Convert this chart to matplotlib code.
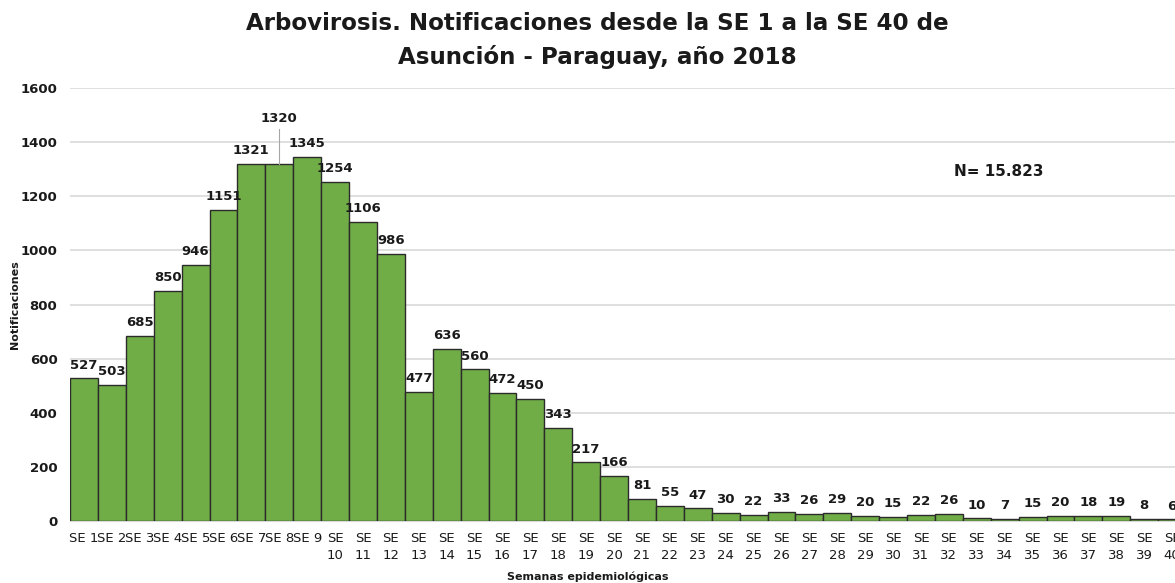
import matplotlib
matplotlib.use("Agg")
import matplotlib.pyplot as plt

weeks = [f"SE {i}" if i < 10 else f"SE\n{i}" for i in range(1, 41)]
values = [527, 503, 685, 850, 946, 1151, 1321, 1320, 1345, 1254,
          1106, 986, 477, 636, 560, 472, 450, 343, 217, 166,
          81, 55, 47, 30, 22, 33, 26, 29, 20, 15,
          22, 26, 10, 7, 15, 20, 18, 19, 8, 6]
title = "Arbovirosis. Notificaciones desde la SE 1 a la SE 40 de\nAsunción - Paraguay, año 2018"
total_label = "N= 15.823"

plt.rcParams['font.family'] = ['DejaVu Sans']
fig = plt.figure(figsize=(11.75, 5.83), dpi=100)
ax = fig.add_axes([70/1175, 1-521/583, (1186-70)/1175, (521-88)/583])

x = list(range(len(values)))
ax.bar(x, values, width=1.0, color="#70AD47", edgecolor="#2b2b2b", linewidth=1.0, zorder=3)
ax.set_xlim(-0.5, len(values) - 0.5)
ax.set_ylim(0, 1600)
ax.set_yticks(range(0, 1601, 200))
ax.yaxis.grid(True, color="#d9d9d9", linewidth=1.2, zorder=0)
ax.set_axisbelow(True)
for s in ["top", "right", "left"]:
    ax.spines[s].set_visible(False)
ax.spines["bottom"].set_color("#d9d9d9")
ax.tick_params(axis="both", length=0)
ax.set_xticks(x)
ax.set_xticklabels(weeks, fontsize=9.5, color="#1a1a1a", linespacing=1.4)
for lab in ax.get_yticklabels():
    lab.set_fontsize(9.5)
    lab.set_fontweight("bold")
    lab.set_color("#1a1a1a")
ax.tick_params(axis="x", pad=8)
ax.tick_params(axis="y", pad=9)

for i, v in enumerate(values):
    if i == 7:
        ax.plot([i, i], [v, 1450], color="#a6a6a6", linewidth=0.8, zorder=4)
        ax.text(i, 1465, str(v), ha="center", va="bottom", fontsize=9.5, fontweight="bold", color="#1a1a1a")
    else:
        ax.text(i, v + 25, str(v), ha="center", va="bottom", fontsize=9.5, fontweight="bold", color="#1a1a1a")

ax.text(32.8, 1290, total_label, ha="center", va="center", fontsize=11, fontweight="bold", color="#1a1a1a")
fig.text(15/1175, 1-305/583, "Notificaciones", rotation=90, ha="center", va="center",
         fontsize=8, fontweight="bold", color="#1a1a1a")
fig.text(0.5, 1-577/583, "Semanas epidemiológicas", ha="center", va="center", fontsize=8, fontweight="bold", color="#1a1a1a")
fig.suptitle(title, x=0.508, y=0.979, fontsize=16.6, fontweight="bold", color="#1a1a1a", linespacing=1.5, va="top")

fig.savefig("out.png", dpi=100)
